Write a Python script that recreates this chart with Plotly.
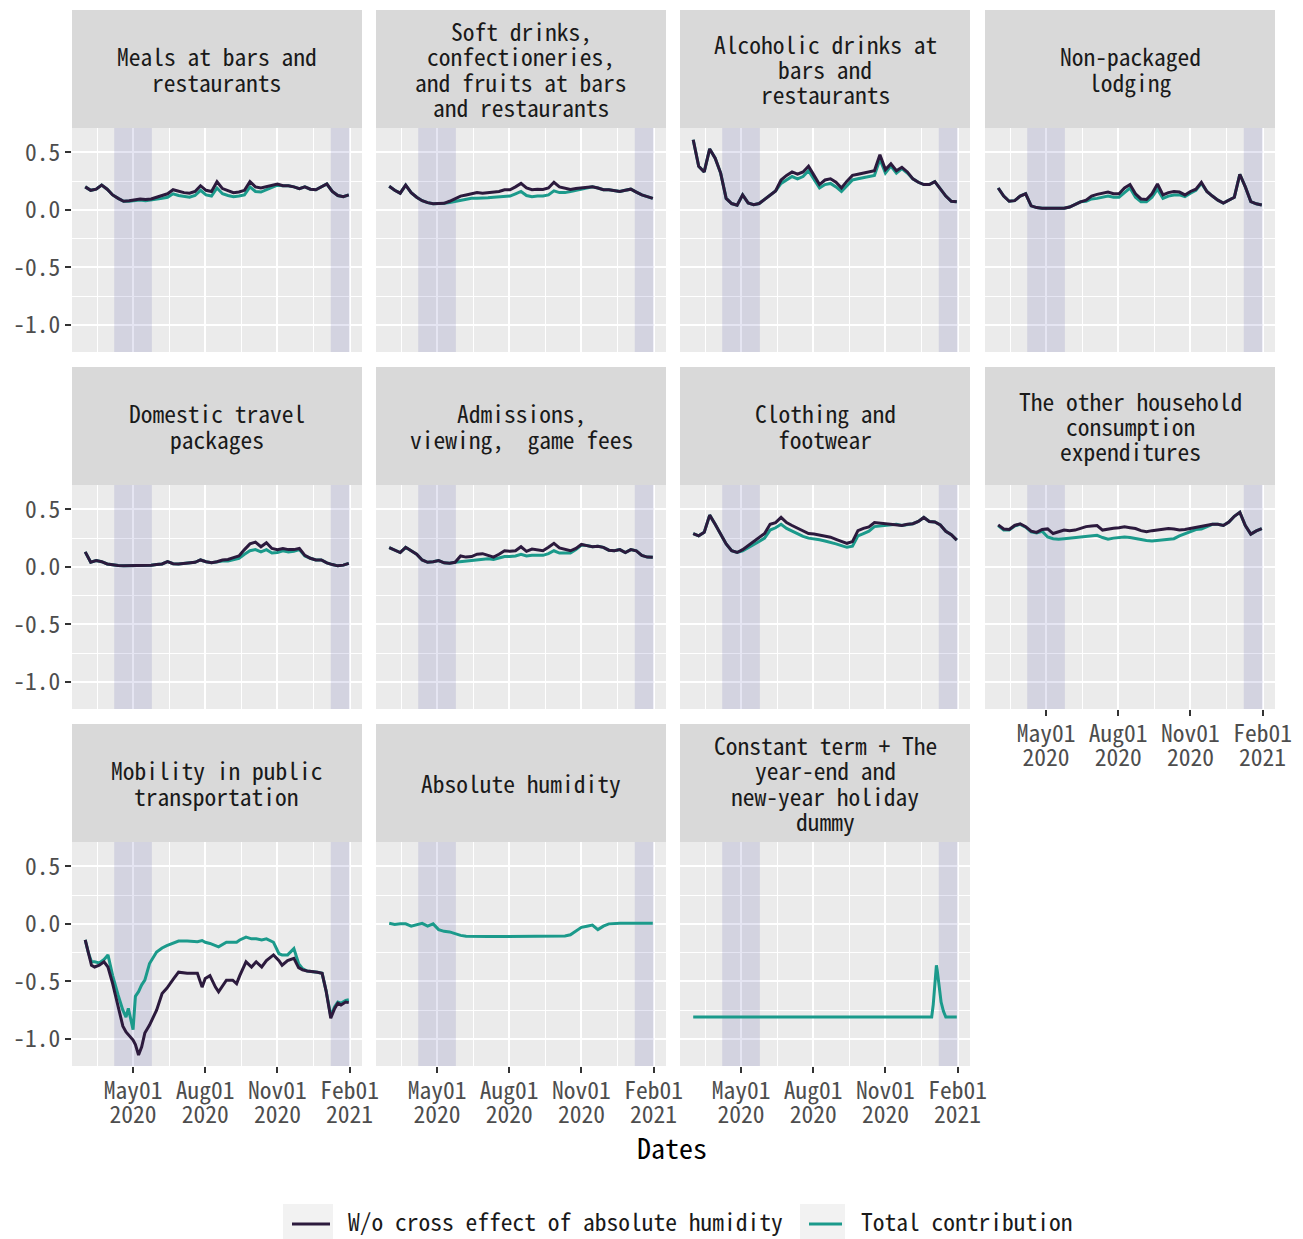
import plotly.graph_objects as go

W, H = 1303, 1239
FONT = "Noto Sans Mono CJK JP, Noto Sans CJK JP, DejaVu Sans Mono, monospace"
DARK = "#2C1A3D"
TEAL = "#1B9A8B"
PANEL_BG = "#EBEBEB"
STRIP_BG = "#D9D9D9"
KEY_BG = "#F2F2F2"
BAND = "rgba(40,40,150,0.12)"
TXT = 23.5

# weekly observation dates
WEEKS = [
    "2020-03-01", "2020-03-08", "2020-03-15", "2020-03-22", "2020-03-29",
    "2020-04-05", "2020-04-12", "2020-04-19", "2020-04-26",
    "2020-05-03", "2020-05-10", "2020-05-17", "2020-05-24", "2020-05-31",
    "2020-06-07", "2020-06-14", "2020-06-21", "2020-06-28",
    "2020-07-05", "2020-07-12", "2020-07-19", "2020-07-26",
    "2020-08-02", "2020-08-09", "2020-08-16", "2020-08-23", "2020-08-30",
    "2020-09-06", "2020-09-13", "2020-09-20", "2020-09-27",
    "2020-10-04", "2020-10-11", "2020-10-18", "2020-10-25",
    "2020-11-01", "2020-11-08", "2020-11-15", "2020-11-22", "2020-11-29",
    "2020-12-06", "2020-12-13", "2020-12-20", "2020-12-27",
    "2021-01-03", "2021-01-10", "2021-01-17", "2021-01-24", "2021-01-31",
]

MEALS_WO = [0.20, 0.17, 0.18, 0.215, 0.18, 0.13, 0.10, 0.075, 0.08,
            0.085, 0.095, 0.09, 0.095, 0.11, 0.125, 0.14, 0.175, 0.16,
            0.15, 0.145, 0.16, 0.21, 0.17, 0.16, 0.245, 0.185, 0.165,
            0.15, 0.155, 0.17, 0.245, 0.20, 0.19, 0.20, 0.215,
            0.225, 0.21, 0.21, 0.20, 0.185, 0.20, 0.18, 0.175, 0.20,
            0.225, 0.16, 0.125, 0.115, 0.13]
MEALS_TOTAL = [0.20, 0.17, 0.18, 0.215, 0.18, 0.13, 0.10, 0.075, 0.075,
               0.08, 0.085, 0.08, 0.085, 0.09, 0.10, 0.11, 0.14, 0.125,
               0.115, 0.11, 0.125, 0.17, 0.13, 0.12, 0.19, 0.14, 0.125,
               0.115, 0.12, 0.13, 0.20, 0.16, 0.155, 0.175, 0.195,
               0.215, 0.21, 0.21, 0.20, 0.185, 0.20, 0.18, 0.175, 0.20,
               0.225, 0.16, 0.125, 0.115, 0.13]

SOFT_WO = [0.205, 0.17, 0.145, 0.215, 0.15, 0.11, 0.08, 0.063, 0.053,
           0.052, 0.057, 0.075, 0.095, 0.12, 0.13, 0.14, 0.15, 0.145,
           0.15, 0.155, 0.16, 0.175, 0.175, 0.20, 0.23, 0.19, 0.175,
           0.18, 0.178, 0.19, 0.24, 0.20, 0.19, 0.178, 0.185,
           0.19, 0.195, 0.20, 0.19, 0.175, 0.175, 0.165, 0.16, 0.17,
           0.18, 0.155, 0.13, 0.115, 0.10]
SOFT_TOTAL = [0.205, 0.17, 0.145, 0.215, 0.15, 0.11, 0.08, 0.063, 0.053,
              0.052, 0.057, 0.065, 0.075, 0.085, 0.095, 0.10, 0.10, 0.10,
              0.105, 0.11, 0.115, 0.12, 0.12, 0.14, 0.16, 0.125, 0.115,
              0.12, 0.12, 0.13, 0.165, 0.15, 0.15, 0.16, 0.17,
              0.18, 0.19, 0.20, 0.19, 0.175, 0.175, 0.165, 0.16, 0.17,
              0.18, 0.155, 0.13, 0.115, 0.10]

ALCO_WO = [0.61, 0.38, 0.33, 0.53, 0.45, 0.32, 0.10, 0.055, 0.04,
           0.13, 0.06, 0.045, 0.055, 0.09, 0.13, 0.165, 0.26, 0.30,
           0.33, 0.31, 0.33, 0.38, 0.30, 0.22, 0.26, 0.27, 0.24,
           0.19, 0.25, 0.30, 0.31, 0.32, 0.33, 0.34, 0.48,
           0.35, 0.40, 0.34, 0.37, 0.33, 0.27, 0.24, 0.22, 0.22,
           0.245, 0.18, 0.12, 0.075, 0.07]
ALCO_TOTAL = [0.61, 0.38, 0.33, 0.53, 0.45, 0.32, 0.10, 0.055, 0.04,
              0.13, 0.06, 0.045, 0.055, 0.09, 0.13, 0.165, 0.23, 0.26,
              0.29, 0.27, 0.29, 0.34, 0.27, 0.19, 0.22, 0.23, 0.20,
              0.16, 0.21, 0.26, 0.27, 0.28, 0.29, 0.30, 0.44,
              0.32, 0.38, 0.32, 0.36, 0.32, 0.27, 0.24, 0.22, 0.22,
              0.245, 0.18, 0.12, 0.075, 0.07]

LODGING_WO = [0.19, 0.12, 0.075, 0.08, 0.12, 0.14, 0.035, 0.02, 0.015,
              0.014, 0.013, 0.013, 0.014, 0.025, 0.05, 0.07, 0.085, 0.12,
              0.135, 0.145, 0.155, 0.14, 0.14, 0.19, 0.22, 0.14, 0.095,
              0.09, 0.14, 0.225, 0.13, 0.15, 0.16, 0.155, 0.13,
              0.16, 0.18, 0.24, 0.16, 0.12, 0.085, 0.06, 0.085, 0.11,
              0.31, 0.20, 0.072, 0.053, 0.043]
LODGING_TOTAL = [0.19, 0.12, 0.075, 0.08, 0.12, 0.14, 0.035, 0.02, 0.015,
                 0.014, 0.013, 0.013, 0.014, 0.025, 0.05, 0.07, 0.075, 0.095,
                 0.10, 0.11, 0.12, 0.11, 0.11, 0.15, 0.19, 0.11, 0.07,
                 0.07, 0.11, 0.18, 0.10, 0.12, 0.13, 0.13, 0.115,
                 0.145, 0.17, 0.23, 0.16, 0.12, 0.085, 0.06, 0.085, 0.11,
                 0.31, 0.20, 0.072, 0.053, 0.043]

TRAVEL_WO = [0.13, 0.04, 0.055, 0.045, 0.025, 0.016, 0.012, 0.009, 0.009,
             0.01, 0.012, 0.014, 0.015, 0.02, 0.025, 0.045, 0.028, 0.026,
             0.03, 0.034, 0.04, 0.06, 0.045, 0.037, 0.045, 0.06, 0.065,
             0.08, 0.095, 0.15, 0.20, 0.215, 0.175, 0.21, 0.16,
             0.15, 0.16, 0.15, 0.15, 0.16, 0.10, 0.075, 0.06, 0.06,
             0.035, 0.02, 0.009, 0.015, 0.03]
TRAVEL_TOTAL = [0.13, 0.04, 0.055, 0.045, 0.025, 0.016, 0.012, 0.009, 0.009,
                0.01, 0.012, 0.014, 0.015, 0.02, 0.025, 0.045, 0.028, 0.026,
                0.03, 0.034, 0.04, 0.06, 0.045, 0.037, 0.045, 0.05, 0.05,
                0.065, 0.075, 0.11, 0.14, 0.15, 0.13, 0.15, 0.12,
                0.125, 0.14, 0.13, 0.135, 0.15, 0.095, 0.075, 0.06, 0.06,
                0.035, 0.02, 0.009, 0.015, 0.03]

ADMIT_WO = [0.167, 0.145, 0.125, 0.17, 0.14, 0.11, 0.06, 0.04, 0.045,
            0.055, 0.035, 0.032, 0.04, 0.095, 0.085, 0.09, 0.11, 0.115,
            0.10, 0.085, 0.11, 0.14, 0.135, 0.14, 0.175, 0.135, 0.155,
            0.15, 0.14, 0.17, 0.205, 0.165, 0.15, 0.14, 0.16,
            0.195, 0.185, 0.175, 0.18, 0.17, 0.145, 0.14, 0.15, 0.125,
            0.15, 0.14, 0.10, 0.085, 0.083]
ADMIT_TOTAL = [0.167, 0.145, 0.125, 0.17, 0.14, 0.11, 0.06, 0.04, 0.045,
               0.055, 0.035, 0.032, 0.04, 0.045, 0.05, 0.055, 0.065, 0.07,
               0.07, 0.065, 0.075, 0.09, 0.09, 0.095, 0.11, 0.095, 0.10,
               0.10, 0.10, 0.115, 0.14, 0.12, 0.12, 0.12, 0.15,
               0.19, 0.185, 0.175, 0.18, 0.17, 0.145, 0.14, 0.15, 0.125,
               0.15, 0.14, 0.10, 0.085, 0.083]

CLOTH_WO = [0.29, 0.27, 0.30, 0.45, 0.37, 0.28, 0.20, 0.14, 0.125,
            0.15, 0.185, 0.215, 0.25, 0.29, 0.37, 0.385, 0.43, 0.385,
            0.36, 0.335, 0.31, 0.29, 0.285, 0.276, 0.265, 0.258, 0.24,
            0.225, 0.205, 0.22, 0.315, 0.335, 0.348, 0.385, 0.38,
            0.375, 0.375, 0.37, 0.36, 0.37, 0.375, 0.395, 0.43, 0.395,
            0.39, 0.365, 0.31, 0.28, 0.233]
CLOTH_TOTAL = [0.29, 0.27, 0.30, 0.45, 0.37, 0.28, 0.20, 0.14, 0.125,
               0.14, 0.165, 0.19, 0.22, 0.25, 0.32, 0.34, 0.37, 0.335,
               0.31, 0.285, 0.265, 0.25, 0.245, 0.235, 0.225, 0.215, 0.20,
               0.185, 0.17, 0.18, 0.27, 0.29, 0.31, 0.35, 0.355,
               0.36, 0.365, 0.37, 0.36, 0.37, 0.375, 0.395, 0.43, 0.395,
               0.39, 0.365, 0.31, 0.28, 0.233]

OTHER_WO = [0.365, 0.33, 0.325, 0.36, 0.375, 0.35, 0.31, 0.30, 0.325,
            0.33, 0.29, 0.305, 0.32, 0.315, 0.32, 0.335, 0.35, 0.355,
            0.36, 0.32, 0.33, 0.335, 0.34, 0.348, 0.34, 0.333, 0.315,
            0.305, 0.315, 0.32, 0.33, 0.333, 0.33, 0.32, 0.325,
            0.333, 0.34, 0.35, 0.36, 0.37, 0.37, 0.36, 0.39, 0.44,
            0.475, 0.36, 0.285, 0.313, 0.333]
OTHER_TOTAL = [0.36, 0.32, 0.32, 0.355, 0.37, 0.345, 0.305, 0.295, 0.31,
               0.26, 0.245, 0.24, 0.245, 0.25, 0.25, 0.255, 0.26, 0.27,
               0.275, 0.255, 0.24, 0.25, 0.255, 0.26, 0.255, 0.245, 0.235,
               0.23, 0.225, 0.23, 0.235, 0.235, 0.245, 0.27, 0.29,
               0.31, 0.325, 0.33, 0.35, 0.37, 0.37, 0.36, 0.39, 0.44,
               0.475, 0.36, 0.285, 0.313, 0.333]

HUMID_TOTAL = [0.005, -0.005, 0.0, 0.0, -0.02, -0.01, 0.005, -0.02, 0.0,
               -0.05, -0.065, -0.07, -0.085, -0.10, -0.108, -0.11, -0.11, -0.11,
               -0.11, -0.11, -0.11, -0.11, -0.11, -0.11, -0.11, -0.11, -0.11,
               -0.11, -0.11, -0.11, -0.11, -0.11, -0.105, -0.095, -0.06,
               -0.03, -0.02, -0.01, -0.05, -0.02, 0.0, 0.005, 0.005, 0.005,
               0.005, 0.01, 0.008, 0.006, 0.005]

# public transportation mobility is observed on its own irregular dates
MOBILITY_DATES = [
    "2020-03-01", "2020-03-05", "2020-03-09", "2020-03-13", "2020-03-19",
    "2020-03-25", "2020-03-30", "2020-04-05", "2020-04-12", "2020-04-18",
    "2020-04-22", "2020-04-25", "2020-05-01", "2020-05-04", "2020-05-08",
    "2020-05-12", "2020-05-16", "2020-05-22", "2020-05-31", "2020-06-07",
    "2020-06-13", "2020-06-22", "2020-06-28", "2020-07-09", "2020-07-22",
    "2020-07-28", "2020-08-01", "2020-08-07", "2020-08-14", "2020-08-18",
    "2020-08-28", "2020-09-05", "2020-09-10", "2020-09-14", "2020-09-22",
    "2020-09-29", "2020-10-05", "2020-10-12", "2020-10-18", "2020-10-27",
    "2020-11-03", "2020-11-07", "2020-11-14", "2020-11-22", "2020-11-28",
    "2020-12-03", "2020-12-09", "2020-12-22", "2020-12-28", "2021-01-02",
    "2021-01-06", "2021-01-08", "2021-01-13", "2021-01-17", "2021-01-21",
    "2021-01-27", "2021-01-31",
]
MOBILITY_WO = [-0.14, -0.26, -0.36, -0.375, -0.36,
               -0.33, -0.375, -0.52, -0.72, -0.89,
               -0.94, -0.965, -1.01, -1.05, -1.14,
               -1.07, -0.95, -0.88, -0.75, -0.605,
               -0.56, -0.475, -0.42, -0.43, -0.43,
               -0.55, -0.475, -0.45, -0.55, -0.59,
               -0.49, -0.49, -0.52, -0.45, -0.33,
               -0.375, -0.33, -0.375, -0.32, -0.27,
               -0.32, -0.36, -0.32, -0.30, -0.38,
               -0.40, -0.41, -0.42, -0.43, -0.58,
               -0.75, -0.82, -0.735, -0.69, -0.705,
               -0.68, -0.685]
MOBILITY_TOTAL = [-0.14, -0.25, -0.33, -0.33, -0.34,
                  -0.31, -0.27, -0.45, -0.62, -0.75,
                  -0.81, -0.735, -0.92, -0.63, -0.59,
                  -0.53, -0.49, -0.345, -0.245, -0.21,
                  -0.19, -0.165, -0.15, -0.15, -0.155,
                  -0.145, -0.16, -0.17, -0.19, -0.20,
                  -0.16, -0.16, -0.16, -0.14, -0.115,
                  -0.13, -0.13, -0.14, -0.13, -0.16,
                  -0.26, -0.27, -0.27, -0.215, -0.345,
                  -0.39, -0.41, -0.42, -0.43, -0.58,
                  -0.74, -0.80, -0.72, -0.68, -0.69,
                  -0.665, -0.66]

CONST_DATES = ["2020-03-01", "2020-12-30", "2021-01-01", "2021-01-03",
               "2021-01-05", "2021-01-06", "2021-01-08", "2021-01-11",
               "2021-01-14", "2021-01-17", "2021-01-31"]
CONST_TOTAL = [-0.81, -0.81, -0.70, -0.48, -0.36, -0.40, -0.52, -0.68,
               -0.76, -0.81, -0.81]

TITLES = [
    ["Meals at bars and", "restaurants"],
    ["Soft drinks,", "confectioneries,", "and fruits at bars", "and restaurants"],
    ["Alcoholic drinks at", "bars and", "restaurants"],
    ["Non-packaged", "lodging"],
    ["Domestic travel", "packages"],
    ["Admissions,", "viewing,  game fees"],
    ["Clothing and", "footwear"],
    ["The other household", "consumption", "expenditures"],
    ["Mobility in public", "transportation"],
    ["Absolute humidity"],
    ["Constant term + The", "year-end and", "new-year holiday", "dummy"],
]

PANEL_DATA = [
    (WEEKS, MEALS_WO, MEALS_TOTAL),
    (WEEKS, SOFT_WO, SOFT_TOTAL),
    (WEEKS, ALCO_WO, ALCO_TOTAL),
    (WEEKS, LODGING_WO, LODGING_TOTAL),
    (WEEKS, TRAVEL_WO, TRAVEL_TOTAL),
    (WEEKS, ADMIT_WO, ADMIT_TOTAL),
    (WEEKS, CLOTH_WO, CLOTH_TOTAL),
    (WEEKS, OTHER_WO, OTHER_TOTAL),
    (MOBILITY_DATES, MOBILITY_WO, MOBILITY_TOTAL),
    (WEEKS, None, HUMID_TOTAL),
    (CONST_DATES, None, CONST_TOTAL),
]

SERIES_NAMES = ["W/o cross effect of absolute humidity", "Total contribution"]

# states of emergency
EMERGENCY = [("2020-04-07", "2020-05-25"), ("2021-01-08", "2021-02-01")]

X_TICKS = ["2020-05-01", "2020-08-01", "2020-11-01", "2021-02-01"]
X_TICK_MONTH = ["May01", "Aug01", "Nov01", "Feb01"]
X_TICK_YEAR = ["2020", "2020", "2020", "2021"]
X_MINOR = ["2020-03-16 12:00", "2020-06-16", "2020-09-16", "2020-12-17"]
X_RANGE = ["2020-02-13 04:00", "2021-02-16 20:00"]
Y_TICKS = [-1.0, -0.5, 0.0, 0.5]
Y_TICK_TEXT = ["-1.0", "-0.5", "0.0", "0.5"]
Y_MINOR = [-0.75, -0.25, 0.25]
Y_RANGE = [-1.236, 0.712]

# panel geometry in pixels
COL_LEFT = [72, 376, 680, 985]
PANEL_W = 290
ROW_TOP = [128, 485, 842]
PANEL_H = 224
STRIP_H = 118
LINE_GAP = 25.3
BOTTOM_PANELS = (8, 9, 10, 11)


def px_x(p):
    return p / W


def px_y(p):
    return 1 - p / H


fig = go.Figure()
layout = dict(
    width=W, height=H, autosize=False,
    margin=dict(l=0, r=0, t=0, b=0, autoexpand=False),
    paper_bgcolor="white",
    plot_bgcolor=PANEL_BG,
    font=dict(family=FONT, size=TXT, color="#4D4D4D"),
    showlegend=False,
)
shapes, annots = [], []
extra_axis = 12

for i, (dates, wo, total) in enumerate(PANEL_DATA):
    n = i + 1
    row, col = divmod(i, 4)
    xa = "x" if n == 1 else f"x{n}"
    ya = "y" if n == 1 else f"y{n}"
    left, top = COL_LEFT[col], ROW_TOP[row]
    bottom_panel = n in BOTTOM_PANELS
    left_panel = col == 0
    x_dom = [px_x(left), px_x(left + PANEL_W)]

    layout["xaxis" if n == 1 else f"xaxis{n}"] = dict(
        domain=x_dom, anchor=ya, type="date", automargin=False,
        range=X_RANGE, tickvals=X_TICKS, ticktext=X_TICK_MONTH,
        showticklabels=bottom_panel, ticks="outside" if bottom_panel else "",
        ticklen=6, tickwidth=2, tickcolor="#333333", ticklabelstandoff=-2,
        showgrid=True, gridcolor="white", gridwidth=2, zeroline=False,
        showline=False, tickfont=dict(size=TXT, color="#4D4D4D"),
        minor=dict(tickvals=X_MINOR, showgrid=True, gridcolor="white",
                   gridwidth=1, ticks=""),
    )
    layout["yaxis" if n == 1 else f"yaxis{n}"] = dict(
        domain=[px_y(top + PANEL_H), px_y(top)], anchor=xa, automargin=False,
        range=Y_RANGE, tickvals=Y_TICKS, ticktext=Y_TICK_TEXT,
        showticklabels=left_panel, ticks="outside" if left_panel else "",
        ticklen=6, tickwidth=2, tickcolor="#333333",
        showgrid=True, gridcolor="white", gridwidth=2, zeroline=False,
        showline=False, tickfont=dict(size=TXT, color="#4D4D4D"),
        minor=dict(tickvals=Y_MINOR, showgrid=True, gridcolor="white",
                   gridwidth=1, ticks=""),
    )

    # second line of the date labels (year) on an overlaid date axis
    if bottom_panel:
        xa_year = f"x{extra_axis}"
        layout[f"xaxis{extra_axis}"] = dict(
            domain=x_dom, anchor=ya, overlaying=xa, side="bottom",
            type="date", range=X_RANGE, tickvals=X_TICKS, automargin=False,
            ticktext=X_TICK_YEAR, ticks="outside", ticklen=6,
            tickcolor="rgba(0,0,0,0)", ticklabelstandoff=22,
            showgrid=False, zeroline=False, showline=False,
            tickfont=dict(size=TXT, color="#4D4D4D"),
        )
        fig.add_trace(go.Scatter(x=[], y=[], mode="lines", xaxis=xa_year,
                                 yaxis=ya, hoverinfo="skip",
                                 showlegend=False))
        extra_axis += 1

    # state-of-emergency bands, tinted over the grid and under the lines
    for x0, x1 in EMERGENCY:
        fig.add_trace(go.Scatter(
            x=[x0, x1, x1, x0, x0],
            y=[Y_RANGE[0], Y_RANGE[0], Y_RANGE[1], Y_RANGE[1], Y_RANGE[0]],
            mode="lines", fill="toself", fillcolor=BAND,
            line=dict(width=0), xaxis=xa, yaxis=ya,
            hoverinfo="skip", showlegend=False))

    # facet strip
    shapes.append(dict(type="rect", xref="paper", yref="paper",
                       x0=px_x(left), x1=px_x(left + PANEL_W),
                       y0=px_y(top), y1=px_y(top - STRIP_H),
                       fillcolor=STRIP_BG, line=dict(width=0), layer="below"))
    lines = TITLES[i]
    cy = top - STRIP_H / 2
    for k, txt in enumerate(lines):
        py = cy + (k - (len(lines) - 1) / 2) * LINE_GAP
        annots.append(dict(text=txt, xref="paper", yref="paper",
                           x=px_x(left + PANEL_W / 2), y=px_y(py),
                           xanchor="center", yanchor="middle", showarrow=False,
                           font=dict(size=TXT, color="#1A1A1A")))

    fig.add_trace(go.Scatter(
        x=dates, y=total, mode="lines", xaxis=xa, yaxis=ya,
        line=dict(color=TEAL, width=3), name=SERIES_NAMES[1],
        hoverinfo="skip"))
    if wo is not None:
        fig.add_trace(go.Scatter(
            x=dates, y=wo, mode="lines", xaxis=xa, yaxis=ya,
            line=dict(color=DARK, width=3), name=SERIES_NAMES[0],
            hoverinfo="skip"))

# legend at the bottom: grey key boxes with a line sample and the series name
LEG_Y = 1224
for (key_l, key_r, text_x), name, color in zip(
        [(283, 333, 347), (800, 845, 860)], SERIES_NAMES, [DARK, TEAL]):
    shapes.append(dict(type="rect", xref="paper", yref="paper",
                       x0=px_x(key_l), x1=px_x(key_r),
                       y0=0, y1=px_y(1204),
                       fillcolor=KEY_BG, line=dict(width=0), layer="below"))
    shapes.append(dict(type="line", xref="paper", yref="paper",
                       x0=px_x(key_l + 9), x1=px_x(key_r - 3),
                       y0=px_y(LEG_Y), y1=px_y(LEG_Y),
                       line=dict(color=color, width=3)))
    annots.append(dict(text=name, xref="paper", yref="paper",
                       x=px_x(text_x), y=px_y(1239), xanchor="left",
                       yanchor="bottom", showarrow=False, borderpad=0,
                       font=dict(size=TXT, color="#1A1A1A")))

annots.append(dict(text="Dates", xref="paper", yref="paper",
                   x=px_x(672), y=px_y(1147), xanchor="center",
                   yanchor="middle", showarrow=False,
                   font=dict(size=28, color="#000000")))

layout["shapes"] = shapes
layout["annotations"] = annots
fig.update_layout(**layout)
fig.write_html("out.html", config={"responsive": False})
